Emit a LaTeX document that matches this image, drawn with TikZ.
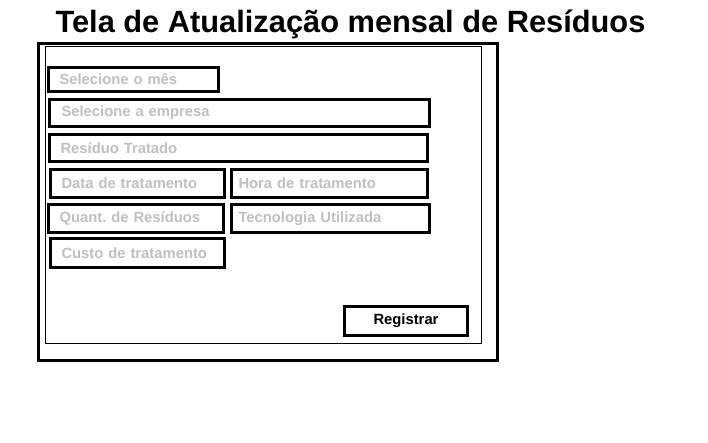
\documentclass[tikz,border=0pt]{standalone}
\usepackage{fontspec}
\setmainfont{Liberation Sans}
\usetikzlibrary{positioning}
\definecolor{hintgray}{RGB}{192,192,192}

\begin{document}
\begin{tikzpicture}[
x=1pt, y=-1pt,
frame/.style={rectangle, draw=black, line width=3pt, anchor=north west, inner sep=0pt},
field/.style={rectangle, draw=black, line width=3pt, anchor=north west, inner xsep=11pt, inner ysep=0pt, text width=#1, align=left, text=hintgray, font=\bfseries\fontsize{14.8}{16}\selectfont},
button/.style={rectangle, draw=black, line width=3pt, anchor=north west, inner sep=0pt, font=\bfseries\fontsize{14.8}{16}\selectfont},
title/.style={font=\bfseries\fontsize{30.8}{34}\selectfont, anchor=base, inner sep=0pt}
]
\useasboundingbox (1.5,0) rectangle (709.5,442);

% title
\node[title](title) at (352,32.5) {Tela de Atualização mensal de Resíduos};

% window
\node[frame, minimum width=459pt, minimum height=317pt](window) at (38.5,42) {};
\node[rectangle, draw=black, line width=1pt, anchor=north west, inner sep=0pt, minimum width=436pt, minimum height=297pt](panel) at (46.5,46) {};

% \node[field=text width](name) at (top left) {hint}
\node[field=148pt, minimum height=24pt](month) at (48.5,66) {Selecione o mês};
\node[field=356pt, minimum height=27pt, inner xsep=12pt](company) at (49.5,98) {Selecione a empresa};
\node[field=356pt, minimum height=27pt](waste) at (49.5,133) {Resíduo Tratado};
\node[field=152pt, minimum height=28pt](date) at (50.5,168) {Data de tratamento};
\node[field=182pt, minimum height=28pt, inner xsep=7pt](hour) at (231.5,168) {Hora de tratamento};
\node[field=153pt, minimum height=28pt](amount) at (48.5,203) {Quant.\ de Resíduos};
\node[field=184pt, minimum height=28pt, inner xsep=7pt](tech) at (231.5,203) {Tecnologia Utilizada};
\node[field=152pt, minimum height=29pt](cost) at (50.5,237) {Custo de tratamento};

\node[button, minimum width=123pt, minimum height=29pt](register) at (344.5,305) {Registrar};
\end{tikzpicture}
\end{document}
